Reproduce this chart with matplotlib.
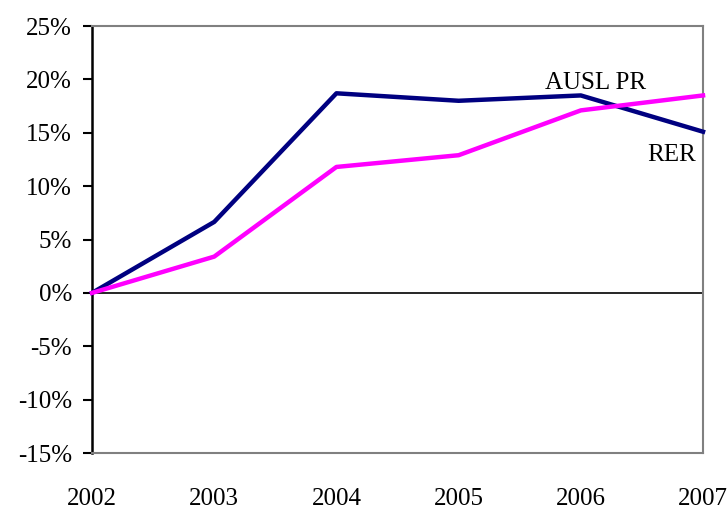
import matplotlib.pyplot as plt
from matplotlib.ticker import FuncFormatter

years = [2002, 2003, 2004, 2005, 2006, 2007]
navy_serie = [0.0, 6.65, 18.7, 18.0, 18.5, 15.1]
rosa_serie = [0.0, 3.4, 11.8, 12.9, 17.1, 18.5]
y_ticks = [-15, -10, -5, 0, 5, 10, 15, 20, 25]

plt.rcParams['font.family'] = ['Liberation Serif', 'DejaVu Serif']

fig = plt.figure(figsize=(7.28, 5.11), dpi=100)
ax = fig.add_axes([0.1264, 0.1135, 0.8393, 0.8355])

ax.plot(years, navy_serie, color="#000080", lw=3.2, zorder=3, clip_on=False)
ax.plot(years, rosa_serie, color="#FF00FF", lw=3.2, zorder=3, clip_on=False)
ax.axhline(0, color="black", lw=1.2, zorder=2)

ax.set_xlim(2002, 2007)
ax.set_ylim(-15, 25)
ax.set_yticks(y_ticks)
ax.yaxis.set_major_formatter(FuncFormatter(lambda v, p: f"{v:.0f}%"))
ax.set_xticks(years)
ax.tick_params(axis="x", length=0, pad=25, labelsize=18)
ax.tick_params(axis="y", direction="out", length=6.5, width=1.5, pad=8, labelsize=18)

for s in ["top", "right", "bottom"]:
    ax.spines[s].set_color("#808080")
    ax.spines[s].set_linewidth(1.5)
ax.spines["left"].set_color("black")
ax.spines["left"].set_linewidth(1.8)

ax.text(2006.12, 19.7, "AUSL PR", fontsize=18, ha="center", va="center")
ax.text(2006.74, 12.9, "RER", fontsize=18, ha="center", va="center")

fig.savefig("out.png", dpi=100)
